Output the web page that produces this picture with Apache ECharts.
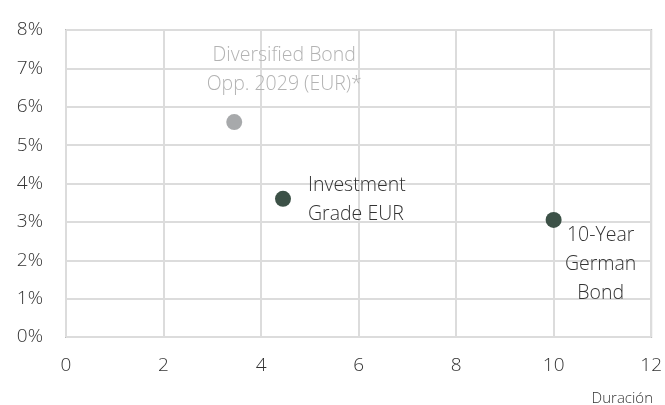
<!DOCTYPE html>
<html>
<head>
    <meta charset="utf-8">
    <title>Duración vs rentabilidad</title>
    <script src="https://cdn.jsdelivr.net/npm/echarts@6/dist/echarts.min.js"></script>
    <style>
        html, body { margin: 0; padding: 0; background: #fff; }
        #main { width: 665px; height: 405px; }
    </style>
</head>
<body>
<div id="main"></div>
<script>
    // datos: duración (x) y rentabilidad en % (y)
    var fundNames = ['Diversified Bond\nOpp. 2029 (EUR)*', 'Investment\nGrade EUR', '10-Year\nGerman\nBond'];
    var durations = [3.45, 4.45, 10.0];
    var yields = [5.6, 3.6, 3.05];
    var pointColors = ['#a7a9ab', '#3c5147', '#3c5147'];
    var xTicks = [0, 2, 4, 6, 8, 10, 12];
    var yTicks = [0, 1, 2, 3, 4, 5, 6, 7, 8];

    var FONT = 'Open Sans';

    // posiciones de las etiquetas (relativas al símbolo)
    var labelCfg = [
        {position: [58, -15], align: 'center', verticalAlign: 'bottom', color: '#b3b3b3'},
        {position: [33, -20], align: 'left', verticalAlign: 'top', color: '#333333'},
        {position: [55, 9], align: 'center', verticalAlign: 'top', color: '#333333'}
    ];

    var points = [];
    for (var i = 0; i < fundNames.length; i++) {
        points.push({
            name: fundNames[i],
            value: [durations[i], yields[i]],
            itemStyle: {color: pointColors[i], opacity: 1},
            label: {
                show: true,
                formatter: '{b}',
                position: labelCfg[i].position,
                align: labelCfg[i].align,
                verticalAlign: labelCfg[i].verticalAlign,
                color: labelCfg[i].color,
                fontSize: 19.5,
                fontWeight: 300,
                lineHeight: 29,
                fontFamily: FONT
            }
        });
    }

    var myChart = echarts.init(document.getElementById('main'));
    var option = {
        animation: false,
        textStyle: {fontFamily: FONT},
        title: {
            text: 'Duración',
            right: 7,
            top: 386,
            textStyle: {fontSize: 15, fontWeight: 300, color: '#333', fontFamily: FONT}
        },
        grid: {left: 66, right: 9, top: 30, bottom: 68, show: true, borderColor: '#bdbdbd', borderWidth: 2},
        xAxis: {
            type: 'value',
            min: xTicks[0],
            max: xTicks[xTicks.length - 1],
            interval: 2,
            axisLine: {show: false},
            axisTick: {show: false},
            splitLine: {lineStyle: {color: '#dcdcdc', width: 2}},
            axisLabel: {color: '#333', fontSize: 19, fontWeight: 300, margin: 19, fontFamily: FONT}
        },
        yAxis: {
            type: 'value',
            min: yTicks[0],
            max: yTicks[yTicks.length - 1],
            interval: 1,
            axisLine: {show: false},
            axisTick: {show: false},
            splitLine: {lineStyle: {color: '#dcdcdc', width: 2}},
            axisLabel: {color: '#333', fontSize: 19, fontWeight: 300, margin: 23, fontFamily: FONT, formatter: '{value}%'}
        },
        series: [{
            type: 'scatter',
            symbolSize: 16,
            data: points
        }]
    };
    myChart.setOption(option);
</script>
</body>
</html>
